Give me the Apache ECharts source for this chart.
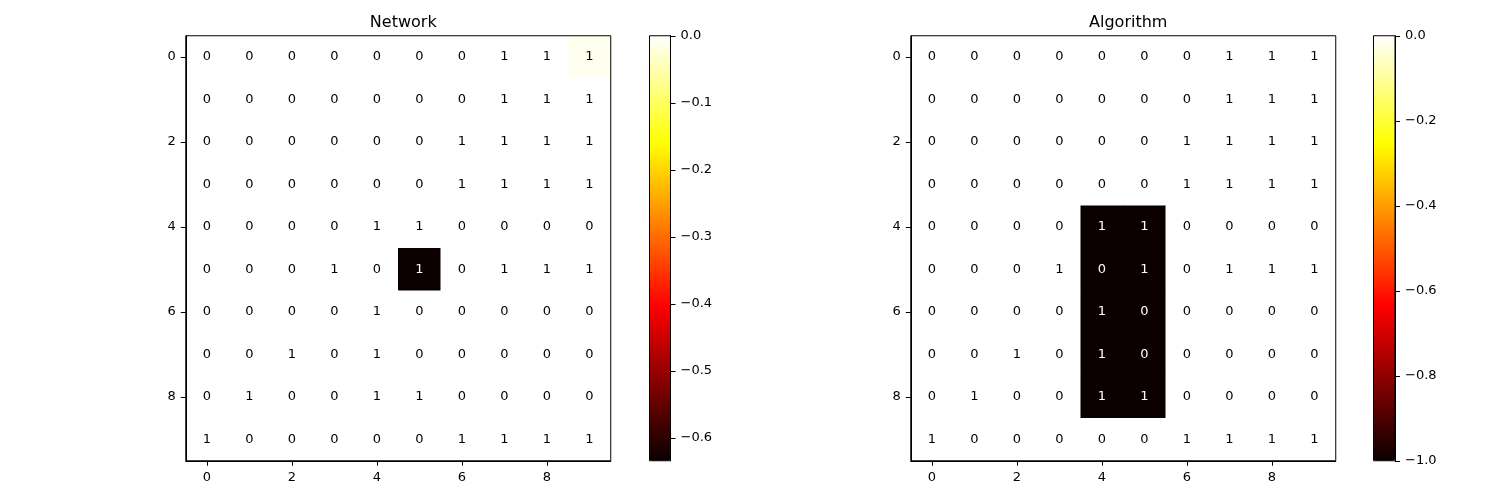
<!DOCTYPE html>
<html>
<head>
<meta charset="utf-8">
<script src="https://cdn.jsdelivr.net/npm/echarts@6/dist/echarts.min.js"></script>
<style>
html,body{margin:0;padding:0;background:#fff;}
#chart{width:1500px;height:500px;}
</style>
</head>
<body>
<div id="chart"></div>
<script>
// ---------- DATA ----------
const indexLabels = ['0','1','2','3','4','5','6','7','8','9'];
const titles = ['Network', 'Algorithm'];

// annotation text (same in both panels)
const annot = [
  [0,0,0,0,0,0,0,1,1,1],
  [0,0,0,0,0,0,0,1,1,1],
  [0,0,0,0,0,0,1,1,1,1],
  [0,0,0,0,0,0,1,1,1,1],
  [0,0,0,0,1,1,0,0,0,0],
  [0,0,0,1,0,1,0,1,1,1],
  [0,0,0,0,1,0,0,0,0,0],
  [0,0,1,0,1,0,0,0,0,0],
  [0,1,0,0,1,1,0,0,0,0],
  [1,0,0,0,0,0,1,1,1,1]
];

// heat values
const networkValues = [
  [0,0,0,0,0,0,0,0,0,-0.01],
  [0,0,0,0,0,0,0,0,0,0],
  [0,0,0,0,0,0,0,0,0,0],
  [0,0,0,0,0,0,0,0,0,0],
  [0,0,0,0,0,0,0,0,0,0],
  [0,0,0,0,0,-0.634,0,0,0,0],
  [0,0,0,0,0,0,0,0,0,0],
  [0,0,0,0,0,0,0,0,0,0],
  [0,0,0,0,0,0,0,0,0,0],
  [0,0,0,0,0,0,0,0,0,0]
];
const algorithmValues = [
  [0,0,0,0,0,0,0,0,0,0],
  [0,0,0,0,0,0,0,0,0,0],
  [0,0,0,0,0,0,0,0,0,0],
  [0,0,0,0,0,0,0,0,0,0],
  [0,0,0,0,-1,-1,0,0,0,0],
  [0,0,0,0,-1,-1,0,0,0,0],
  [0,0,0,0,-1,-1,0,0,0,0],
  [0,0,0,0,-1,-1,0,0,0,0],
  [0,0,0,0,-1,-1,0,0,0,0],
  [0,0,0,0,0,0,0,0,0,0]
];

const networkRange = [-0.634, 0];
const algorithmRange = [-1, 0];
const networkTicks = [0, -0.1, -0.2, -0.3, -0.4, -0.5, -0.6];
const algorithmTicks = [0, -0.2, -0.4, -0.6, -0.8, -1.0];

// ---------- STYLE HELPERS ----------
function hot(t) {
  const a = 0.365079, b = 0.746032;
  const r = t < a ? 0.0416 + (1 - 0.0416) * t / a : 1;
  const g = t < a ? 0 : (t < b ? (t - a) / (b - a) : 1);
  const bl = t < b ? 0 : (t - b) / (1 - b);
  const h = v => Math.round(Math.max(0, Math.min(1, v)) * 255).toString(16).padStart(2, '0');
  return '#' + h(r) + h(g) + h(bl);
}
const hotColors = [];
for (let i = 0; i <= 200; i++) hotColors.push(hot(i / 200));

const FONT = 'DejaVu Sans';
const TICK_FS = 13;

function buildData(values, range) {
  const out = [];
  for (let r = 0; r < values.length; r++) {
    for (let c = 0; c < values[r].length; c++) {
      const v = values[r][c];
      const t = (v - range[0]) / (range[1] - range[0]);
      out.push({
        value: [c, r, v],
        label: { color: t < 0.5 ? '#ffffff' : '#000000' },
        annot: annot[r][c]
      });
    }
  }
  return out;
}

const panels = [
  { left: 185.75, cbLeft: 649.5, cbWidth: 21, values: networkValues, range: networkRange, ticks: networkTicks },
  { left: 910.75, cbLeft: 1373.5, cbWidth: 21.5, values: algorithmValues, range: algorithmRange, ticks: algorithmTicks }
];
const TOP = 35.75, SIZE = 425;

const grid = [], xAxis = [], yAxis = [], series = [], visualMap = [], title = [];

panels.forEach((p, i) => {
  grid.push({ left: p.left, top: TOP, width: SIZE, height: SIZE, show: true,
    borderColor: '#000', borderWidth: 1, backgroundColor: 'transparent', z: 10 });
  grid.push({ left: p.cbLeft, top: TOP, width: p.cbWidth, height: SIZE, show: true,
    borderColor: '#000', borderWidth: 1, backgroundColor: 'transparent', z: 10 });

  const gMain = i * 2, gCb = i * 2 + 1;

  xAxis.push({
    type: 'category', gridIndex: gMain, data: indexLabels, position: 'bottom',
    axisLine: { show: true, lineStyle: { color: '#000', width: 1 } },
    axisTick: { show: true, interval: 1, alignWithLabel: true, length: 5, lineStyle: { color: '#000' } },
    axisLabel: { interval: 1, color: '#000', fontFamily: FONT, fontSize: TICK_FS, margin: 10 },
    splitLine: { show: false }, z: 10
  });
  yAxis.push({
    type: 'category', gridIndex: gMain, data: indexLabels, inverse: true, position: 'left',
    axisLine: { show: true, lineStyle: { color: '#000', width: 1 } },
    axisTick: { show: true, interval: 1, alignWithLabel: true, length: 5, lineStyle: { color: '#000' } },
    axisLabel: { interval: 1, color: '#000', fontFamily: FONT, fontSize: TICK_FS, margin: 10 },
    splitLine: { show: false }, z: 10
  });
  xAxis.push({ type: 'category', gridIndex: gCb, data: [''], show: false });
  yAxis.push({
    type: 'value', gridIndex: gCb, min: p.range[0], max: p.range[1], position: 'right',
    axisLine: { show: true, lineStyle: { color: '#000', width: 1 } },
    axisTick: { show: true, length: 5, customValues: p.ticks, lineStyle: { color: '#000' } },
    axisLabel: { customValues: p.ticks, color: '#000', fontFamily: FONT, fontSize: TICK_FS, margin: 10,
      formatter: v => (v < 0 ? '\u2212' : '') + Math.abs(v).toFixed(1) },
    splitLine: { show: false }, z: 10
  });

  series.push({
    type: 'heatmap', xAxisIndex: gMain, yAxisIndex: gMain,
    data: buildData(p.values, p.range),
    label: {
      show: true, fontFamily: FONT, fontSize: TICK_FS,
      formatter: prm => String(prm.data.annot)
    },
    itemStyle: { borderWidth: 0 },
    emphasis: { disabled: true },
    progressive: 0
  });

  visualMap.push({
    type: 'continuous', seriesIndex: i, dimension: 2,
    min: p.range[0], max: p.range[1],
    inRange: { color: hotColors },
    left: p.cbLeft, top: TOP, itemWidth: p.cbWidth, itemHeight: SIZE,
    padding: 0, calculable: false, hoverLink: false, text: null, orient: 'vertical',
    showLabel: false
  });

  title.push({
    text: titles[i], left: p.left + SIZE / 2, top: 10, textAlign: 'center',
    textStyle: { fontFamily: FONT, fontSize: 16, fontWeight: 'normal', color: '#000' }
  });
});

const chart = echarts.init(document.getElementById('chart'), null, { renderer: 'canvas' });
chart.setOption({
  animation: false,
  backgroundColor: '#fff',
  textStyle: { fontFamily: FONT },
  title, grid, xAxis, yAxis, visualMap, series
});
</script>
</body>
</html>
